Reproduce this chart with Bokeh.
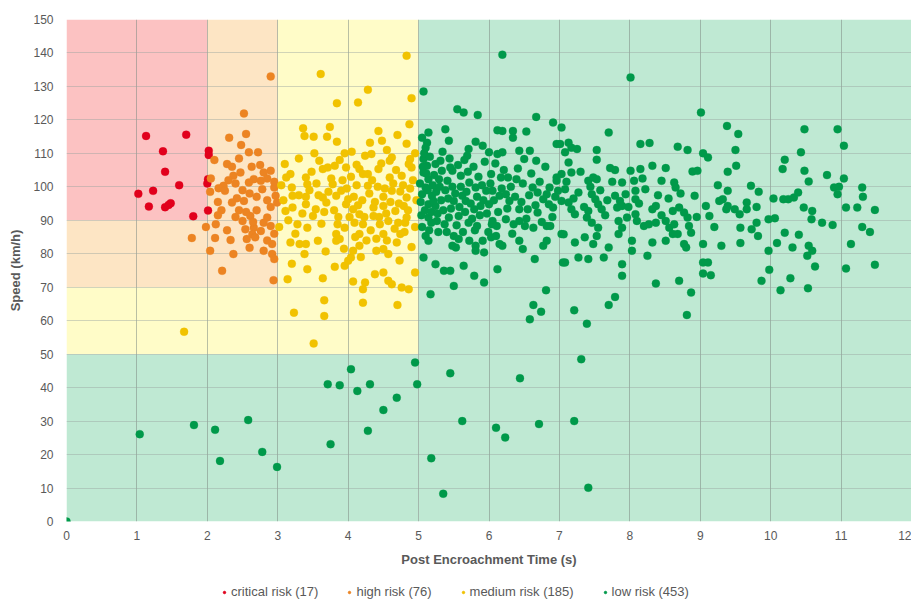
from bokeh.plotting import figure
from bokeh.models import FixedTicker, Range1d, Legend, LegendItem, ColumnDataSource
from bokeh.layouts import column
from bokeh.embed import file_html
from bokeh.resources import INLINE

# ---------------- data ----------------
x_ticks = list(range(0, 13))
y_ticks = list(range(0, 151, 10))
series_names = ["critical risk (17)", "high risk (76)", "medium risk (185)", "low risk (453)"]

# background risk zones (left, right, bottom, top)
zone_critical = [(0, 2, 90, 150)]
zone_high = [(0, 2, 70, 90), (2, 3, 70, 150)]
zone_medium = [(0, 3, 50, 70), (3, 5, 50, 150)]
zone_low = [(0, 5, 0, 50), (5, 12, 0, 150)]

critical_pts = [
    (1.13, 115.2), (1.70, 115.6), (1.37, 110.6), (2.02, 110.8), (1.40, 104.5), (2.01, 102.3),
    (1.60, 100.5), (1.23, 98.8), (1.02, 97.9), (1.48, 95.1), (1.40, 93.9), (1.17, 94.1),
    (2.01, 92.9), (1.80, 91.2), (2.00, 101.0), (1.45, 94.6), (2.02, 109.5),
]

high_pts = [
    (2.52, 121.9), (2.31, 114.7), (2.55, 115.8), (2.48, 112.5), (2.59, 110.3), (2.72, 110.3),
    (2.10, 108.0), (2.28, 106.8), (2.63, 106.0), (2.90, 104.8), (2.80, 104.3), (2.47, 104.3),
    (2.37, 103.3), (2.66, 102.3), (2.76, 101.8), (2.59, 101.3), (2.23, 100.3), (2.16, 99.6),
    (2.25, 98.8), (2.04, 98.5), (2.78, 99.3), (2.95, 99.8), (2.42, 96.6), (2.52, 95.8),
    (2.35, 95.3), (2.97, 97.3), (2.99, 95.3), (2.45, 93.0), (2.61, 91.3), (2.85, 90.8),
    (2.80, 89.3), (1.98, 88.0), (2.12, 88.8), (2.28, 87.0), (2.54, 87.3), (2.66, 87.8),
    (2.76, 86.8), (2.64, 85.8), (2.90, 88.3), (1.78, 84.7), (2.11, 84.7), (2.33, 84.1),
    (2.56, 84.4), (2.68, 84.9), (2.92, 82.9), (2.04, 80.9), (2.37, 79.9), (2.80, 80.9),
    (2.92, 79.9), (2.95, 78.4), (2.21, 74.9), (2.94, 72.1), (2.90, 133.0),
    (2.30, 102.0), (2.40, 101.0), (2.50, 99.0), (2.60, 98.0), (2.70, 97.0), (2.85, 96.0),
    (2.90, 94.0), (2.70, 93.0), (2.55, 92.5), (2.40, 91.0), (2.20, 93.0), (2.15, 95.5),
    (2.05, 102.5), (2.85, 102.5), (2.95, 101.5), (2.75, 106.5), (2.45, 108.5), (2.35, 106.0),
    (2.65, 89.5), (2.50, 89.8), (2.95, 86.0), (2.85, 84.0), (2.60, 81.8), (2.15, 91.5),
]

medium_pts = [
    (4.83, 139.2), (3.61, 133.7), (4.28, 129.0), (3.84, 125.0), (4.14, 125.2), (4.90, 126.5),
    (4.87, 118.7), (3.36, 117.5), (3.38, 115.2), (3.74, 117.9), (3.51, 115.0), (3.70, 115.0),
    (3.84, 113.5), (4.43, 116.7), (4.31, 113.2), (4.48, 113.8), (4.83, 112.9), (3.95, 110.0),
    (4.24, 109.3), (4.33, 109.8), (4.62, 108.8), (4.59, 107.8), (4.88, 108.3), (4.86, 106.8),
    (4.90, 105.8), (3.10, 106.8), (3.59, 107.8), (3.64, 105.3), (3.71, 105.8), (3.81, 106.3),
    (3.97, 105.8), (4.12, 106.6), (4.16, 105.3), (4.21, 103.8), (4.28, 103.8), (4.43, 105.3),
    (3.12, 102.8), (3.18, 103.8), (3.40, 102.8), (3.42, 100.8), (3.78, 100.8), (3.90, 98.8),
    (4.28, 100.3), (4.59, 102.8), (4.76, 103.3), (4.62, 98.8), (4.74, 98.6), (3.20, 99.8),
    (3.21, 97.3), (3.40, 97.0), (3.64, 96.8), (3.83, 97.3), (4.00, 96.3), (4.50, 97.0),
    (4.83, 96.8), (3.40, 94.8), (3.21, 93.8), (3.11, 92.8), (3.54, 93.3), (3.50, 91.3),
    (3.69, 95.3), (3.97, 94.8), (4.07, 93.3), (4.16, 91.8), (4.36, 93.8), (4.50, 94.3),
    (4.36, 91.3), (4.67, 92.8), (4.79, 94.3), (4.83, 90.8), (3.28, 88.8), (3.42, 87.8),
    (3.85, 88.8), (3.95, 87.8), (3.83, 85.9), (4.09, 89.3), (4.21, 88.8), (4.16, 85.9),
    (4.45, 88.8), (4.50, 85.9), (4.57, 89.8), (4.71, 89.3), (4.81, 89.3), (4.74, 85.9),
    (4.69, 83.4), (3.18, 83.4), (3.31, 82.9), (3.40, 82.9), (3.57, 83.9), (3.83, 83.9),
    (3.88, 84.4), (4.16, 82.4), (4.07, 80.9), (4.40, 80.9), (4.50, 81.4), (4.57, 79.9),
    (3.38, 79.9), (3.68, 80.7), (4.00, 77.9), (3.95, 76.4), (4.04, 78.9), (3.42, 75.4),
    (3.81, 76.1), (3.14, 72.4), (3.64, 72.7), (4.07, 71.7), (4.24, 71.4), (4.21, 69.4),
    (4.38, 73.9), (4.50, 74.4), (4.57, 71.9), (4.62, 70.9), (4.76, 69.9), (4.86, 69.4),
    (4.95, 74.4), (3.66, 66.1), (3.66, 61.4), (4.21, 65.4), (4.70, 64.7), (3.23, 62.4),
    (3.51, 53.2), (1.67, 56.7),
    (3.05, 100.5), (3.08, 96.0), (3.15, 90.0), (3.25, 86.0), (3.30, 97.5), (3.35, 92.0),
    (3.45, 99.0), (3.48, 104.5), (3.55, 101.0), (3.58, 97.5), (3.62, 89.0), (3.66, 92.5),
    (3.72, 98.5), (3.76, 102.5), (3.80, 93.0), (3.86, 91.0), (3.92, 102.0), (3.94, 81.5),
    (3.98, 99.5), (4.02, 91.0), (4.04, 103.0), (4.08, 97.0), (4.10, 85.0), (4.12, 100.5),
    (4.14, 94.5), (4.18, 79.0), (4.20, 96.0), (4.23, 91.0), (4.26, 84.0), (4.30, 98.0),
    (4.32, 87.0), (4.34, 102.0), (4.38, 95.5), (4.40, 84.5), (4.42, 100.0), (4.44, 91.0),
    (4.47, 107.0), (4.52, 99.5), (4.54, 92.0), (4.55, 84.0), (4.60, 95.5), (4.64, 101.0),
    (4.66, 87.5), (4.68, 105.0), (4.72, 95.0), (4.73, 78.0), (4.78, 100.5), (4.80, 86.5),
    (4.85, 93.0), (4.88, 99.5), (4.90, 82.0), (4.92, 102.0), (4.95, 88.0), (4.97, 96.0),
    (3.02, 88.0), (3.30, 108.5), (3.52, 110.0), (3.88, 108.0), (4.05, 110.5), (4.55, 111.0),
    (4.70, 115.5), (4.95, 110.0), (3.20, 77.0),
]

low_pts = [
    (0.00, 0.0), (1.04, 26.1), (1.81, 28.8), (2.11, 27.4), (2.18, 18.1), (2.58, 30.3),
    (2.78, 20.8), (2.99, 16.3), (3.71, 41.0), (3.88, 40.7), (3.75, 23.1), (4.04, 45.5),
    (4.13, 39.0), (4.31, 41.0), (4.28, 27.1), (4.50, 33.3), (4.69, 37.0), (4.95, 47.5),
    (4.98, 41.0), (5.45, 44.3), (5.18, 18.9), (5.35, 8.3), (5.62, 30.0), (6.10, 28.0),
    (6.23, 25.1), (6.44, 42.8), (6.71, 29.1), (7.21, 30.0), (7.31, 48.5), (7.41, 10.1),
    (6.63, 64.7), (6.74, 62.7), (6.58, 60.4), (7.21, 63.1), (7.39, 59.1), (7.70, 64.7),
    (8.81, 61.7),
    (6.19, 139.5), (8.01, 132.7), (9.01, 122.2), (9.38, 118.2), (9.54, 115.8), (7.70, 116.2),
    (5.07, 128.5), (5.55, 123.2), (5.64, 122.2), (5.84, 121.5), (6.67, 120.9), (6.91, 119.2),
    (7.03, 117.7), (5.14, 116.2), (5.05, 114.7), (5.38, 117.2), (5.43, 113.8), (6.12, 116.9),
    (6.19, 116.7), (6.34, 116.7), (6.34, 114.7), (6.53, 116.5), (5.12, 113.2), (5.10, 111.7),
    (5.81, 113.5), (5.71, 111.3), (5.69, 109.3), (5.91, 112.3), (6.00, 110.3), (6.12, 109.8),
    (6.19, 110.3), (6.43, 110.8), (6.58, 110.8), (6.50, 108.3), (6.67, 107.8), (6.96, 112.8),
    (5.07, 108.3), (5.12, 106.3), (5.07, 104.3), (5.14, 102.3), (5.10, 99.8), (5.05, 97.8),
    (5.24, 106.8), (5.33, 104.8), (5.29, 102.3), (5.41, 101.8), (5.48, 104.8), (5.31, 107.8),
    (5.45, 105.8), (5.60, 103.3), (5.72, 101.3), (6.03, 103.8), (6.17, 102.8), (6.27, 102.8),
    (6.39, 102.3), (5.81, 99.8), (5.96, 98.8), (5.62, 97.3), (5.67, 95.8), (5.50, 95.8),
    (5.19, 97.3), (5.24, 94.3), (5.14, 94.8), (6.05, 98.8), (6.15, 97.3), (6.24, 97.8),
    (6.29, 95.8), (6.00, 94.8), (5.88, 94.3), (5.79, 93.3), (6.62, 99.8), (6.69, 98.3),
    (6.77, 96.3), (6.86, 99.8), (6.82, 97.8), (6.96, 101.8), (7.03, 103.8), (6.43, 93.3),
    (6.55, 93.3), (6.69, 92.3), (6.91, 93.8), (5.14, 90.8), (5.26, 89.8), (5.43, 90.8),
    (5.57, 91.3), (6.05, 89.8), (6.24, 90.3), (6.43, 89.8), (6.82, 88.3),
    (5.18, 89.3), (5.37, 88.8), (5.71, 89.3), (5.83, 88.3), (6.04, 88.8), (6.11, 88.3),
    (6.35, 88.8), (6.51, 88.3), (6.63, 87.8), (6.87, 88.3), (7.06, 85.8), (5.10, 85.3),
    (5.14, 83.9), (5.50, 85.3), (5.57, 84.4), (5.72, 83.9), (5.81, 82.4), (5.48, 82.4),
    (5.53, 81.9), (5.81, 80.9), (5.93, 80.4), (5.91, 83.9), (6.03, 84.9), (6.10, 85.3),
    (6.15, 82.9), (6.19, 82.4), (6.43, 83.9), (6.48, 81.4), (6.65, 78.4), (6.77, 82.4),
    (6.82, 83.9), (5.07, 78.9), (5.24, 76.9), (5.36, 74.9), (5.45, 74.9), (5.64, 76.4),
    (5.79, 73.4), (5.93, 71.4), (6.12, 75.4), (5.50, 70.4), (5.17, 67.9), (6.81, 69.1),
    (7.05, 77.4),
    (7.01, 112.8), (7.13, 113.2), (7.17, 111.7), (7.08, 110.3), (7.25, 111.3), (7.53, 111.0),
    (7.53, 108.1), (8.15, 112.8), (8.28, 113.1), (8.68, 112.0), (8.82, 111.0), (9.04, 110.0),
    (9.11, 108.8), (7.13, 107.3), (7.72, 105.6), (7.79, 105.0), (8.01, 104.8), (8.15, 105.3),
    (8.32, 106.3), (8.51, 105.6), (8.89, 104.6), (8.96, 104.8), (7.17, 104.3), (6.96, 102.8),
    (7.41, 101.8), (7.48, 102.8), (7.53, 102.3), (7.89, 101.3), (8.06, 101.8), (8.08, 98.8),
    (8.22, 99.3), (8.63, 101.3), (8.65, 99.8), (8.92, 97.3), (9.32, 96.3), (9.39, 98.8),
    (6.98, 98.8), (7.08, 99.3), (7.27, 98.3), (7.03, 95.8), (7.13, 95.3), (7.17, 93.3),
    (7.22, 91.8), (7.46, 97.8), (7.51, 96.3), (7.55, 94.8), (7.60, 93.3), (7.79, 97.3),
    (7.86, 95.8), (7.89, 94.3), (7.82, 93.8), (7.94, 97.8), (8.08, 96.3), (8.37, 94.3),
    (8.32, 93.3), (8.61, 92.8), (8.70, 93.8), (8.77, 92.3), (9.08, 94.3), (9.13, 91.3),
    (9.27, 95.8), (9.37, 93.3), (7.41, 92.8), (7.39, 90.8), (7.46, 89.3), (7.55, 87.8),
    (7.53, 85.3), (7.84, 89.8), (7.89, 87.8), (7.96, 90.8), (8.08, 91.8), (8.10, 89.8),
    (8.20, 88.3), (8.27, 88.8), (8.37, 89.3), (8.51, 89.8), (8.56, 87.8), (8.63, 88.8),
    (8.68, 85.9), (8.82, 90.8), (8.84, 88.3), (8.87, 86.3), (7.03, 85.9), (7.22, 83.4),
    (7.36, 84.9), (7.48, 82.9), (7.70, 81.9), (7.84, 85.9), (8.03, 83.9), (8.03, 80.9),
    (8.25, 79.4), (8.32, 83.4), (8.51, 83.9), (8.61, 85.9), (8.77, 82.9), (8.80, 81.9),
    (9.04, 82.9), (9.30, 82.4), (7.08, 77.4), (7.27, 78.9), (7.41, 78.4), (7.63, 78.9),
    (7.89, 76.9), (7.89, 73.4), (9.04, 77.4), (9.11, 77.4), (9.04, 74.1), (9.15, 73.6),
    (8.37, 71.1), (8.70, 71.9), (8.87, 68.4), (7.79, 67.1),
    (10.48, 117.2), (10.95, 117.2), (11.04, 112.3), (9.50, 111.0), (9.51, 106.3), (9.39, 104.5),
    (10.43, 110.3), (10.20, 108.1), (10.17, 105.3), (10.48, 104.8), (10.54, 101.6), (10.80, 103.5),
    (11.04, 102.5), (9.72, 100.3), (9.83, 98.5), (10.04, 96.5), (10.18, 96.3), (10.25, 96.3),
    (10.33, 96.8), (10.39, 98.3), (10.90, 99.8), (10.97, 100.0), (10.95, 97.8), (11.30, 99.8),
    (11.31, 97.0), (9.39, 94.3), (9.49, 93.3), (9.56, 91.8), (9.66, 95.3), (9.66, 93.3),
    (9.80, 94.0), (10.47, 93.8), (10.59, 92.8), (10.58, 90.3), (10.73, 89.3), (10.88, 88.6),
    (11.07, 93.8), (11.23, 93.8), (11.48, 93.1), (9.97, 90.3), (10.06, 90.6), (9.80, 89.3),
    (9.57, 87.8), (9.73, 87.3), (9.82, 85.3), (10.20, 86.3), (10.40, 85.7), (11.30, 88.0),
    (11.41, 86.5), (9.57, 83.2), (9.97, 80.9), (10.09, 83.2), (10.31, 81.9), (10.54, 82.4),
    (10.59, 80.9), (10.52, 79.4), (11.14, 82.9), (9.98, 75.2), (10.63, 76.2), (11.07, 75.6),
    (11.48, 76.7), (9.87, 71.9), (10.28, 72.7), (10.14, 69.1), (10.53, 69.7),
    (5.02, 101.0), (5.03, 95.5), (5.04, 91.5), (5.05, 88.0), (5.06, 106.0), (5.08, 110.0),
    (5.09, 93.0), (5.11, 104.0), (5.13, 99.0), (5.15, 87.0), (5.16, 109.0), (5.18, 92.5),
    (5.20, 100.5), (5.21, 95.8), (5.22, 103.5), (5.25, 98.5), (5.27, 92.0), (5.28, 86.5),
    (5.30, 100.0), (5.32, 96.0), (5.34, 110.5), (5.35, 93.0), (5.38, 99.0), (5.40, 86.5),
    (5.42, 96.5), (5.44, 108.5), (5.46, 93.5), (5.48, 100.0), (5.52, 98.0), (5.54, 88.5),
    (5.56, 106.5), (5.58, 94.0), (5.60, 100.0), (5.63, 86.5), (5.65, 108.0), (5.66, 92.5),
    (5.68, 98.5), (5.70, 104.5), (5.74, 95.0), (5.76, 90.5), (5.78, 106.0), (5.80, 87.0),
    (5.83, 97.0), (5.85, 103.0), (5.87, 91.5), (5.90, 100.5), (5.92, 96.0), (5.94, 107.5),
    (5.97, 92.0), (5.99, 86.5), (6.02, 101.0), (6.07, 96.0), (6.09, 107.0), (6.13, 92.5),
    (6.18, 99.5), (6.21, 105.0), (6.26, 93.5), (6.31, 100.0), (6.33, 86.0), (6.37, 97.0),
    (6.41, 105.5), (6.46, 95.5), (6.48, 101.0), (6.53, 90.5), (6.57, 97.5), (6.60, 104.0),
    (6.66, 94.5), (6.72, 101.5), (6.75, 89.5), (6.80, 106.0), (6.85, 94.8), (6.90, 91.0),
    (6.94, 97.0), (7.10, 101.5), (7.20, 96.5), (7.30, 104.5), (7.35, 94.0), (7.44, 100.0),
    (7.58, 99.0), (7.65, 91.5), (7.68, 96.0), (7.75, 101.5), (7.98, 94.0), (8.13, 95.0),
    (8.18, 102.5), (8.40, 97.5), (8.45, 91.5), (8.55, 96.5), (8.72, 98.0), (8.95, 91.0),
    (9.20, 88.0), (9.25, 100.5), (8.45, 101.8),
]

# ---------------- styling ----------------
zone_colors = ["#fcc2c2", "#fde5c4", "#fffcc8", "#bfe9d3"]
point_colors = ["#e1001c", "#ec8422", "#f1c200", "#00994a"]
text_color = "#595959"
font = "Liberation Sans"

p = figure(width=911, height=570, x_range=Range1d(0, 12), y_range=Range1d(0, 150),
           output_backend="svg", toolbar_location=None,
           min_border_left=66, min_border_right=0, min_border_top=19, min_border_bottom=49)
p.outline_line_color = None
p.background_fill_color = "white"
p.border_fill_color = "white"

for zones, col in zip([zone_critical, zone_high, zone_medium, zone_low], zone_colors):
    src = ColumnDataSource(dict(l=[z[0] for z in zones], r=[z[1] for z in zones],
                                b=[z[2] for z in zones], t=[z[3] for z in zones]))
    p.quad(left="l", right="r", bottom="b", top="t", source=src,
           fill_color=col, line_color=None, level="image")

sources = []
for pts, col in zip([critical_pts, high_pts, medium_pts, low_pts], point_colors):
    src = ColumnDataSource(dict(x=[q[0] for q in pts], y=[q[1] for q in pts]))
    sources.append(src)
    p.scatter("x", "y", source=src, size=8, fill_color=col, line_color=col,
              line_width=0.5, line_alpha=0.6)

p.xaxis.ticker = FixedTicker(ticks=x_ticks)
p.yaxis.ticker = FixedTicker(ticks=y_ticks)

for ax in (p.xaxis[0], p.yaxis[0]):
    ax.axis_line_color = None
    ax.major_tick_line_color = None
    ax.minor_tick_line_color = None
    ax.major_tick_out = 0
    ax.major_tick_in = 0
    ax.minor_tick_out = 0
    ax.minor_tick_in = 0
    ax.major_label_text_font = font
    ax.major_label_text_font_size = "12px"
    ax.major_label_text_color = text_color
    ax.axis_label_text_font = font
    ax.axis_label_text_font_size = "13px"
    ax.axis_label_text_font_style = "bold"
    ax.axis_label_text_color = text_color

p.xaxis.axis_label = "Post Encroachment Time (s)"
p.yaxis.axis_label = "Speed (km/h)"
p.xaxis.major_label_standoff = 9
p.yaxis.major_label_standoff = 13
p.xaxis.axis_label_standoff = 9
p.yaxis.axis_label_standoff = 7

p.xgrid.grid_line_color = "#7f8c85"
p.xgrid.grid_line_alpha = 0.55
p.ygrid.grid_line_color = "#9aa5a0"
p.ygrid.grid_line_alpha = 0.45

# ---------------- legend strip (same sources, view range holds no data) ----------------
lf = figure(width=911, height=32, x_range=Range1d(0, 12), y_range=Range1d(1000, 1001),
            output_backend="svg", toolbar_location=None,
            min_border_left=0, min_border_right=0, min_border_top=0, min_border_bottom=0)
lf.axis.visible = False
lf.grid.visible = False
lf.outline_line_color = None
lf.background_fill_color = "white"
lf.border_fill_color = "white"

items = []
for name, col, src in zip(series_names, point_colors, sources):
    r = lf.scatter("x", "y", source=src, size=6, fill_color=col, line_color=col)
    items.append(LegendItem(label=name, renderers=[r], index=0))

legend = Legend(items=items, orientation="horizontal", location=(155, 3),
                label_text_font=font, label_text_font_size="13px", label_text_color=text_color,
                glyph_width=6, glyph_height=6, label_standoff=4, spacing=28, padding=0, margin=0,
                border_line_color=None, background_fill_alpha=0, label_height=14)
lf.add_layout(legend)

layout = column(p, lf, spacing=0)
open("out.html", "w").write(file_html(layout, INLINE))
